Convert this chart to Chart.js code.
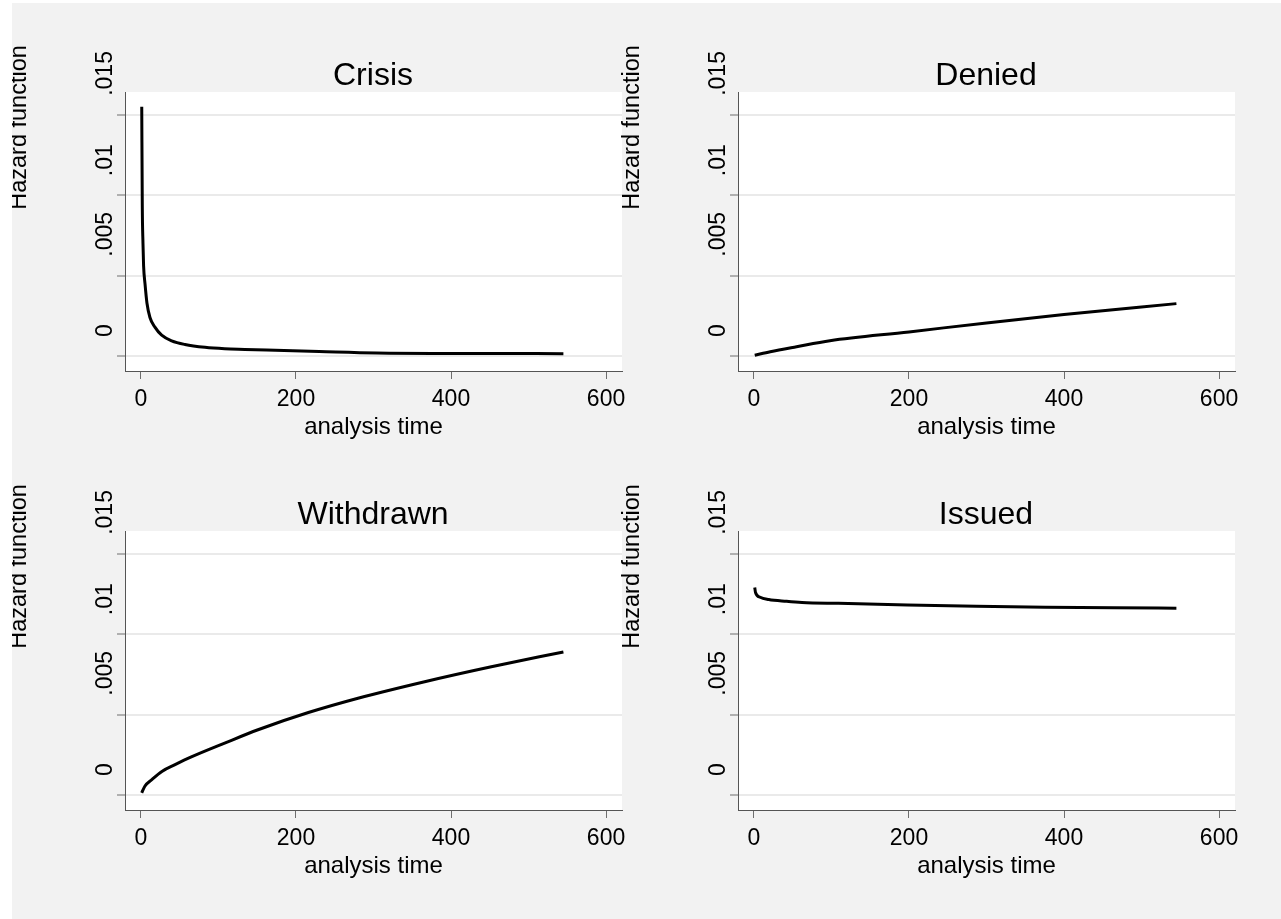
<!DOCTYPE html>
<html>
<head>
<meta charset="utf-8">
<script src="https://cdn.jsdelivr.net/npm/chart.js@4.4.0/dist/chart.umd.min.js"></script>
<style>
  html, body { margin: 0; padding: 0; background: #fff; }
  #graph { position: absolute; left: 12px; top: 3px; width: 1269px; height: 916px; background: #f2f2f2; overflow: hidden; }
  #graph canvas { position: absolute; }
</style>
</head>
<body>
<div id="graph">
  <canvas id="crisis" width="625" height="439" style="left:-12px;top:0px"></canvas>
  <canvas id="denied" width="625" height="439" style="left:601px;top:0px"></canvas>
  <canvas id="withdrawn" width="625" height="439" style="left:-12px;top:439px"></canvas>
  <canvas id="issued" width="625" height="439" style="left:601px;top:439px"></canvas>
</div>
<script>
// values (analysis time vs. hazard)
const crisisTime = [1, 1.7, 2.6, 3.4, 5.2, 7.7, 11.6, 18, 26.7, 39.6, 56.8, 82.6, 108, 134, 162, 230, 304, 420, 545];
const crisisHazard = [0.0155, 0.0094, 0.0070, 0.0056, 0.0045, 0.0033, 0.0024, 0.0018, 0.0013, 0.00095, 0.00072, 0.00054, 0.00045, 0.00041, 0.00037, 0.00028, 0.00019, 0.00016, 0.00015];

const deniedTime = [1, 21, 55, 98, 200, 300, 400, 545];
const deniedHazard = [0.00005, 0.00027, 0.00058, 0.00095, 0.0015, 0.00206, 0.00258, 0.00326];

const withdrawnTime = [1, 5, 14, 27, 44, 65, 108, 151, 216, 280, 366, 452, 545];
const withdrawnHazard = [0.00014, 0.00055, 0.00096, 0.00147, 0.00189, 0.00237, 0.00323, 0.00406, 0.00513, 0.00602, 0.00705, 0.00798, 0.0089];

const issuedTime = [1, 2, 8, 19, 42, 62, 109, 198, 287, 376, 465, 545];
const issuedHazard = [0.0129, 0.0126, 0.0123, 0.01216, 0.01205, 0.01198, 0.01192, 0.01182, 0.01174, 0.01168, 0.01164, 0.01162];

const xTicks = [0, 200, 400, 600];
const yTicks = [0, 0.005, 0.01, 0.015];
const yTickLabels = ['0', '.005', '.01', '.015'];
const xTitle = 'analysis time';
const yTitle = 'Hazard function';

const FONT = '"Liberation Sans", Arial, Helvetica, sans-serif';

// white plot region + the rotated (and oddly shifted) Stata y labels
const stataPanel = {
    id: 'stataPanel',
    beforeDraw(chart) {
        const a = chart.chartArea;
        const ctx = chart.ctx;
        ctx.save();
        ctx.fillStyle = '#ffffff';
        ctx.fillRect(a.left, a.top, a.right - a.left, a.bottom - a.top);
        ctx.restore();
    },
    afterDraw(chart) {
        const a = chart.chartArea;
        const ctx = chart.ctx;
        const yScale = chart.scales.y;
        ctx.save();
        ctx.fillStyle = '#000';
        ctx.font = '23px ' + FONT;
        ctx.textBaseline = 'alphabetic';
        yTicks.forEach(function (v, i) {
            ctx.save();
            ctx.translate(a.left - 13.5, yScale.getPixelForValue(v) - 19);
            ctx.rotate(-Math.PI / 2);
            ctx.textAlign = 'left';
            ctx.fillText(yTickLabels[i], 0, 0);
            ctx.restore();
        });
        ctx.font = '23.5px ' + FONT;
        ctx.translate(25.5, a.top + 35.5);
        ctx.rotate(-Math.PI / 2);
        ctx.textAlign = 'center';
        ctx.fillText(yTitle, 0, 0);
        ctx.restore();
    }
};

function makePanel(id, title, times, hazards) {
    var ctx = document.getElementById(id).getContext('2d');
    return new Chart(ctx, {
        type: 'line',
        data: {
            datasets: [{
                data: times.map(function (t, i) { return {x: t, y: hazards[i]}; }),
                borderColor: '#000',
                borderWidth: 3,
                pointRadius: 0,
                fill: false,
                cubicInterpolationMode: 'monotone'
            }]
        },
        options: {
            responsive: false,
            animation: false,
            // left padding keeps the title centred over the plot region
            layout: { padding: { left: 124, right: 3, top: 57, bottom: 0 } },
            plugins: {
                legend: { display: false },
                tooltip: { enabled: false },
                title: {
                    display: true,
                    text: title,
                    color: '#000',
                    font: { family: FONT, size: 32, weight: 'normal', lineHeight: 1 },
                    padding: 0
                }
            },
            scales: {
                x: {
                    type: 'linear',
                    min: -20.6,
                    max: 620.6,
                    afterBuildTicks: function (s) { s.ticks = xTicks.map(function (v) { return {value: v}; }); },
                    afterFit: function (s) { s.height = 71; s.paddingLeft = 0; s.paddingRight = 0; },
                    grid: { drawOnChartArea: false, tickLength: 8, tickColor: '#6e6e6e', tickWidth: 1 },
                    border: { color: '#555', width: 1 },
                    ticks: { color: '#000', font: { family: FONT, size: 23, lineHeight: 1.2 }, padding: 6.5, maxRotation: 0, autoSkip: false },
                    title: { display: true, text: xTitle, color: '#000', font: { family: FONT, size: 24, lineHeight: 1.2 }, padding: 0 }
                },
                y: {
                    type: 'linear',
                    min: -0.00093,
                    max: 0.01642,
                    afterBuildTicks: function (s) { s.ticks = yTicks.map(function (v) { return {value: v}; }); },
                    afterFit: function (s) { s.width = 1; s.paddingTop = 0; s.paddingBottom = 0; },
                    grid: { color: '#eaeaea', lineWidth: 2, tickLength: 8, tickColor: '#6e6e6e', tickWidth: 1 },
                    border: { color: '#555', width: 1 },
                    ticks: { display: false }
                }
            }
        },
        plugins: [stataPanel]
    });
}

makePanel('crisis', 'Crisis', crisisTime, crisisHazard);
makePanel('denied', 'Denied', deniedTime, deniedHazard);
makePanel('withdrawn', 'Withdrawn', withdrawnTime, withdrawnHazard);
makePanel('issued', 'Issued', issuedTime, issuedHazard);
</script>
</body>
</html>
